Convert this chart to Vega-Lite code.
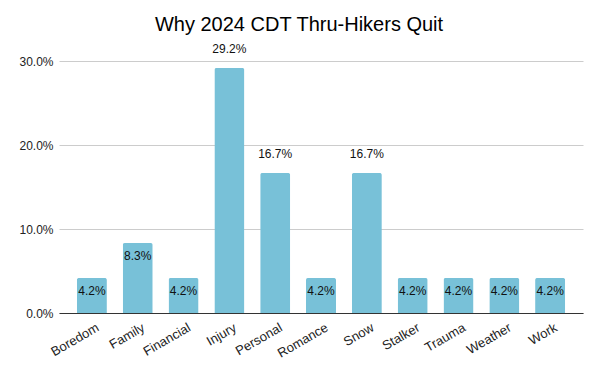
{
  "$schema": "https://vega.github.io/schema/vega-lite/v6.json",
  "autosize": {"type": "none"},
  "width": 524,
  "height": 252,
  "padding": {"left": 59, "top": 61, "right": 17, "bottom": 58},
  "background": "white",
  "config": {"view": {"stroke": null}, "font": "Liberation Sans"},
  "title": {"text": "Why 2024 CDT Thru-Hikers Quit", "fontSize": 20, "fontWeight": "normal", "color": "#000000", "anchor": "middle", "offset": 28, "dy": 20, "dx": -22, "font": "Liberation Sans"},
  "data": {"values": [
    {"reason": "Boredom", "pct": 0.0417},
    {"reason": "Family", "pct": 0.0833},
    {"reason": "Financial", "pct": 0.0417},
    {"reason": "Injury", "pct": 0.2917},
    {"reason": "Personal", "pct": 0.1667},
    {"reason": "Romance", "pct": 0.0417},
    {"reason": "Snow", "pct": 0.1667},
    {"reason": "Stalker", "pct": 0.0417},
    {"reason": "Trauma", "pct": 0.0417},
    {"reason": "Weather", "pct": 0.0417},
    {"reason": "Work", "pct": 0.0417}
  ]},
  "encoding": {
    "x": {"field": "reason", "type": "nominal", "sort": null,
      "scale": {"paddingInner": 0.345, "paddingOuter": 0.39},
      "axis": {"title": null, "labelAngle": -30, "labelAlign": "right", "labelBaseline": "top", "labelFontSize": 13, "labelColor": "#222222", "ticks": false, "domainColor": "#333333", "labelPadding": 8, "labelOffset": 3, "grid": false}},
    "y": {"field": "pct", "type": "quantitative",
      "scale": {"domain": [0, 0.3]},
      "axis": {"title": null, "format": ".1%", "values": [0, 0.1, 0.2, 0.3], "labelFontSize": 12, "labelColor": "#222222", "ticks": false, "domain": false, "gridColor": "#cccccc", "labelPadding": 6}}
  },
  "layer": [
    {"mark": {"type": "bar", "color": "#78c1d8", "cornerRadiusTopLeft": 2, "cornerRadiusTopRight": 2}},
    {"transform": [{"filter": "datum.pct < 0.1"}],
     "mark": {"type": "text", "baseline": "middle", "dy": 13, "fontSize": 12, "color": "#111111"},
     "encoding": {"text": {"field": "pct", "type": "quantitative", "format": ".1%"}}},
    {"transform": [{"filter": "datum.pct >= 0.1"}],
     "mark": {"type": "text", "baseline": "middle", "dy": -19, "fontSize": 12, "color": "#111111"},
     "encoding": {"text": {"field": "pct", "type": "quantitative", "format": ".1%"}}}
  ]
}
